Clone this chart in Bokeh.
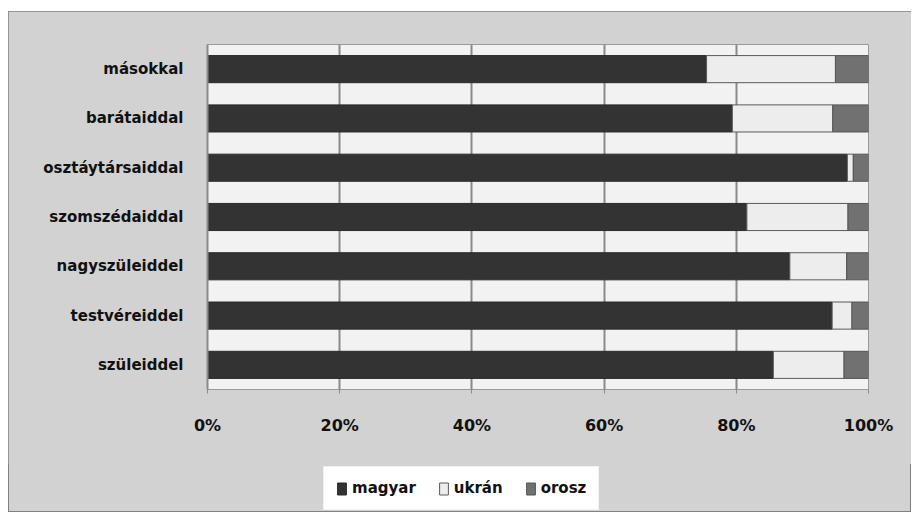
from bokeh.plotting import figure
from bokeh.layouts import column
from bokeh.models import ColumnDataSource, FactorRange, Range1d, FixedTicker, PrintfTickFormatter, Legend, LegendItem
from bokeh.embed import file_html
from bokeh.resources import INLINE

categories = ["szüleiddel", "testvéreiddel", "nagyszüleiddel", "szomszédaiddal",
              "osztáytársaiddal", "barátaiddal", "másokkal"]
magyar = [85.6, 94.5, 88.1, 81.6, 96.8, 79.4, 75.5]
ukran = [10.7, 3.0, 8.6, 15.3, 0.9, 15.2, 19.5]
orosz = [3.7, 2.5, 3.3, 3.1, 2.3, 5.4, 5.0]
series = ["magyar", "ukrán", "orosz"]
ticks = [0, 20, 40, 60, 80, 100]

fills = ["#333333", "#ededed", "#717171"]
lines = ["#2a2a2a", "#5a5a5a", "#555555"]
BG = "#d2d2d2"

source = ColumnDataSource(dict(cat=categories, magyar=magyar, ukran=ukran, orosz=orosz))

p = figure(frame_width=661, frame_height=345, y_range=FactorRange(*categories), x_range=Range1d(0, 100),
           output_backend="svg", toolbar_location=None,
           min_border_left=199, min_border_right=43, min_border_top=33, min_border_bottom=75)
p.border_fill_color = BG
p.background_fill_color = "#f2f2f2"
p.outline_line_color = "#9a9a9a"
p.y_range.range_padding = 0
p.y_range.factor_padding = 0

p.hbar_stack(["magyar", "ukran", "orosz"], y="cat", height=0.55, source=source,
             fill_color=fills, line_color=lines, line_width=1)

p.ygrid.grid_line_color = None
p.xgrid.grid_line_color = "#8a8a8a"
p.xgrid.grid_line_width = 2
p.xaxis.ticker = FixedTicker(ticks=ticks)
p.xaxis.formatter = PrintfTickFormatter(format="%d%%")
p.xaxis.axis_line_color = None
p.xaxis.major_tick_line_color = "#8a8a8a"
p.xaxis.major_tick_in = 0
p.xaxis.major_tick_out = 4
p.xaxis.minor_tick_line_color = None
p.xaxis.major_label_standoff = 22
p.xaxis.major_label_text_font = "DejaVu Sans"
p.xaxis.major_label_text_font_style = "bold"
p.xaxis.major_label_text_font_size = "16px"
p.xaxis.major_label_text_color = "#111111"

p.yaxis.axis_line_color = "#8a8a8a"
p.yaxis.axis_line_width = 2
p.yaxis.major_tick_line_color = None
p.yaxis.minor_tick_line_color = None
p.yaxis.major_label_standoff = 18
p.yaxis.major_label_text_font = "DejaVu Sans"
p.yaxis.major_label_text_font_style = "bold"
p.yaxis.major_label_text_font_size = "15px"
p.yaxis.major_label_text_color = "#111111"

# legend strip below the chart (its own figure so the legend is not clipped)
q = figure(width=903, height=48, y_range=FactorRange(*categories), x_range=Range1d(0, 100),
           output_backend="svg", toolbar_location=None, x_axis_type=None, y_axis_type=None,
           min_border=0)
q.border_fill_color = BG
q.border_fill_alpha = 0
q.background_fill_color = BG
q.background_fill_alpha = 0
q.outline_line_color = None
q.outline_line_alpha = 0
q.grid.visible = False
leg_renderers = q.hbar_stack(["magyar", "ukran", "orosz"], y="cat", height=0.55, source=source,
                             fill_color=fills, line_color=lines, line_width=1)
for r in leg_renderers:
    r.visible = False

legend = Legend(items=[LegendItem(label=s, renderers=[r]) for s, r in zip(series, leg_renderers)],
                orientation="horizontal", location=(116, 2))
legend.background_fill_color = "#ffffff"
legend.background_fill_alpha = 1
legend.border_line_color = "#e4e4e4"
legend.label_text_font = "DejaVu Sans"
legend.label_text_font_style = "bold"
legend.label_text_font_size = "15px"
legend.label_text_color = "#111111"
legend.glyph_width = 11
legend.glyph_height = 15
legend.label_standoff = 5
legend.spacing = 22
legend.padding = 12
legend.margin = 0
legend.label_height = 16
q.add_layout(legend, "center")

layout = column(p, q, spacing=0)
layout.styles = {"margin-left": "8px", "margin-top": "11px", "background-color": BG,
                 "outline": "1px solid #808080", "outline-offset": "-1px"}

open("out.html", "w").write(file_html(layout, INLINE))
